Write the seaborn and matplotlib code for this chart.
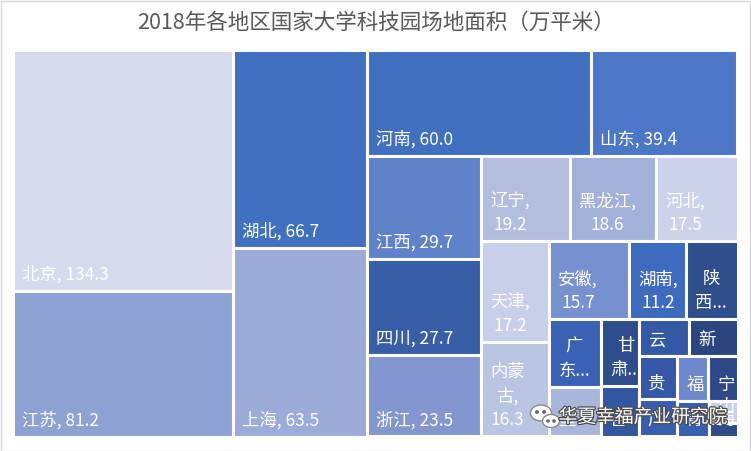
import matplotlib
matplotlib.use("Agg")
import matplotlib.pyplot as plt
import matplotlib.patheffects as pe
from matplotlib.patches import Ellipse, Rectangle
from matplotlib.font_manager import FontProperties
import seaborn as sns

# ---------------- data ----------------
TITLE = "2018年各地区国家大学科技园场地面积（万平米）"
regions = ["北京", "江苏", "湖北", "上海", "河南", "山东", "江西", "四川", "浙江",
           "辽宁", "黑龙江", "河北", "天津", "内蒙古", "安徽", "湖南", "陕西", "广东",
           "重庆", "甘肃", "吉林", "云南", "新疆", "贵州", "广西", "福建", "宁夏",
           "青海", "山西", "海南"]
areas = [134.3, 81.2, 66.7, 63.5, 60.0, 39.4, 29.7, 27.7, 23.5,
         19.2, 18.6, 17.5, 17.2, 16.3, 15.7, 11.2, 10.0, 8.8,
         6.5, 6.4, 4.8, 4.7, 4.5, 4.2, 3.6, 3.5, 3.3,
         2.8, 1.6, 1.0]
tile_colors = ["#D5DAED", "#8EA1D3", "#4270C0", "#9CABD8", "#4270C0", "#4B77C6",
               "#5F82C8", "#375EA7", "#8397CE", "#B3BEDF", "#A3B0DA", "#CBD2EA",
               "#C8CFE8", "#BAC4E3", "#7790CF", "#3E6ABF", "#2F4E8C", "#3961B4",
               "#A9B6DC", "#2E4D8D", "#3356A1", "#3558A4", "#2B457F", "#3557A5",
               "#3A5EAE", "#6F88CB", "#2D4987", "#3A5FB0", "#C9CFE8", "#2E4A88"]
# number of tiles placed in each successive strip of the treemap
strip_sizes = [2, 2, 2, 3, 3, 2, 3, 2, 2, 2, 2, 2, 1, 1, 1]
WATERMARK = "华夏幸福产业研究院"

# ---------------- style ----------------
sns.set_theme(style="white")
plt.rcParams["font.family"] = ["Noto Sans CJK SC", "DejaVu Sans"]

DPI = 100
FW, FH = 7.51, 4.51
fig = plt.figure(figsize=(FW, FH), dpi=DPI)
fig.patch.set_facecolor("white")

ax_rect = [12.5 / 751, (451 - 436.5) / 451, 725 / 751, 387 / 451]
ax = fig.add_axes(ax_rect)
W = FW * DPI * ax_rect[2]
H = FH * DPI * ax_rect[3]
ax.set_xlim(0, W)
ax.set_ylim(H, 0)
ax.set_axis_off()


def strip_layout(values, strips, width, height):
    """Squarified-style strip layout: each strip is laid along the shorter side."""
    scale = width * height / sum(values)
    x, y, w, h = 0.0, 0.0, width, height
    rects = []
    i = 0
    for n in strips:
        group = values[i:i + n]
        s = sum(group) * scale
        if w >= h:
            cw = s / h
            yy = y
            for v in group:
                ch = v * scale / cw
                rects.append((x, yy, cw, ch))
                yy += ch
            x += cw
            w -= cw
        else:
            rh = s / w
            xx = x
            for v in group:
                cw = v * scale / rh
                rects.append((xx, y, cw, rh))
                xx += cw
            y += rh
            h -= rh
        i += n
    return rects


rects = strip_layout(areas, strip_sizes, W, H)
lefts = [r[0] for r in rects]
tops = [r[1] for r in rects]
widths = [r[2] for r in rects]
heights = [r[3] for r in rects]

bars = ax.bar(lefts, heights, width=widths, bottom=tops, align="edge",
              color=tile_colors, edgecolor="white", linewidth=2.2)

# ---------------- labels ----------------
LABEL_SIZE = 12.5
fp = FontProperties(family=["Noto Sans CJK SC", "DejaVu Sans"], size=LABEL_SIZE)
renderer = fig.canvas.get_renderer()


def tw(s):
    return renderer.get_text_width_height_descent(s, fp, ismath=False)[0]


def fit_w(s):
    # trailing punctuation may hang into the padding
    return tw(s.rstrip(","))


GAP = 3.0
PAD_H = 7.5
LINE_H = 24.0
BASE_OFF = 9.5

for (x, y, w, h), name, val, patch in zip(rects, regions, areas, bars.patches):
    vx0 = x + GAP / 2
    vw = w - GAP
    vy1 = y + h - GAP / 2
    vh = h - GAP
    avail = vw - 2 * PAD_H
    tokens = list(name[:-1]) + [name[-1] + ","] + [f"{val:.1f}"]
    lines = []
    cur = tokens[0]
    for k, tok in enumerate(tokens[1:], start=1):
        sep = " " if k == len(tokens) - 1 else ""
        cand = cur + sep + tok
        if fit_w(cand) <= avail:
            cur = cand
        else:
            lines.append(cur)
            cur = tok
    lines.append(cur)
    nmax = max(1, int((vh - 28.8) // LINE_H) + 1)
    if len(lines) > nmax:
        lines = lines[:nmax]
        if nmax >= 2:
            last = lines[-1]
            cand = last + "..."
            if tw(cand) > avail + 2:
                cand = last.rstrip(",") + "..."
            lines[-1] = cand
    blockw = max(tw(l) for l in lines)
    cx = vx0 + PAD_H + blockw / 2
    n = len(lines)
    for i, line in enumerate(lines):
        by = vy1 - BASE_OFF - (n - 1 - i) * LINE_H
        t = ax.text(cx, by, line, ha="center", va="baseline", color="white",
                    fontproperties=fp, zorder=3)
        t.set_clip_path(patch)

# ---------------- title ----------------
fig.text(0.5, 1 - 23 / 451, TITLE, ha="center", va="center",
         fontsize=15.5, color="#595959")

# ---------------- watermark ----------------
ox = 12.5
oy = 49.5
b1 = Ellipse((541 - ox, 413 - oy), 21, 16, facecolor="white", edgecolor="#8a8a8a",
             lw=1.0, zorder=5)
b2 = Ellipse((551 - ox, 421 - oy), 17, 13, facecolor="white", edgecolor="#8a8a8a",
             lw=1.0, zorder=6)
ax.add_patch(b1)
ax.add_patch(b2)
for (ex, ey) in [(537, 412), (544, 412)]:
    ax.add_patch(Ellipse((ex - ox, ey - oy), 2.5, 2.5, color="#6a6a6a", zorder=7))
for (ex, ey) in [(548, 421), (554, 421)]:
    ax.add_patch(Ellipse((ex - ox, ey - oy), 2.2, 2.2, color="#6a6a6a", zorder=7))
ax.text(643 - ox, 417 - oy, WATERMARK, ha="center", va="center", fontsize=13.5,
        color="white", zorder=8,
        path_effects=[pe.withStroke(linewidth=1.8, foreground="#4d4d4d")])

# ---------------- border ----------------
fig.patches.append(Rectangle((0.001, 0.001), 0.998, 0.997, transform=fig.transFigure,
                             fill=False, edgecolor="#D9D9D9", lw=1.0))

fig.savefig("out.png", dpi=DPI, facecolor="white")
